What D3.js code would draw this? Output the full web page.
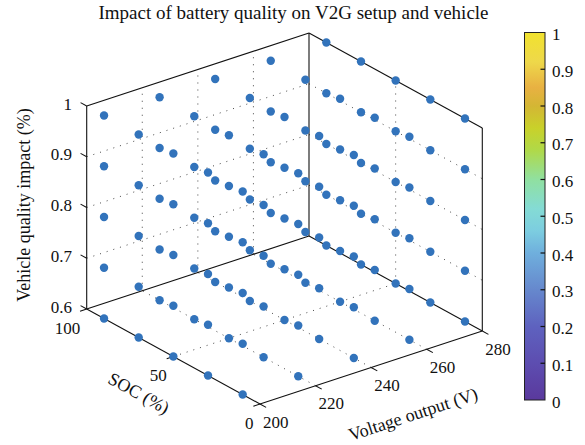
<!DOCTYPE html>
<html>
<head>
<meta charset="utf-8">
<script src="https://cdn.jsdelivr.net/npm/d3@7"></script>
<style>
  body { margin: 0; background: #fff; }
  svg { display: block; }
  text { font-family: "Liberation Serif", "DejaVu Serif", serif; fill: #111; }
</style>
</head>
<body>
<div id="chart"></div>
<script>
// values
var voltage = [200, 220, 240, 260, 280];
var soc = [10, 30, 50, 70, 90];
var quality = [0.6, 0.7, 0.8, 0.9, 1.0];

var voltageTicks = [200, 220, 240, 260, 280];
var socTicks = [0, 50, 100];
var qualityTicks = [0.6, 0.7, 0.8, 0.9, 1];
var colorTicks = [0, 0.1, 0.2, 0.3, 0.4, 0.5, 0.6, 0.7, 0.8, 0.9, 1];

var W = 585, H = 445;

// parula-like colormap used by the colorbar
var cmap = [
  [0.00, "#5a399d"], [0.10, "#5d4db0"], [0.20, "#5e62bf"], [0.30, "#6688cd"],
  [0.40, "#6fafdd"], [0.46, "#7ccde0"], [0.52, "#84dbd5"], [0.60, "#90e0a0"],
  [0.68, "#b0d948"], [0.74, "#c9d12a"], [0.80, "#d4b634"], [0.85, "#e8b142"],
  [0.92, "#eed84a"], [1.00, "#f1e22e"]
];

// each axis maps to a 0..1 fraction of the box
var fx = d3.scaleLinear().domain([200, 280]).range([0, 1]);
var fy = d3.scaleLinear().domain([100, 0]).range([0, 1]);
var fz = d3.scaleLinear().domain([0.6, 1]).range([0, 1]);

// screen vectors of the projected box
var origin = [86.7, 309];        // V=200, SOC=100, q=0.6
var ex = [222.3, -73];
var ey = [173.3, 95];
var ez = [0, -203];

function proj(v, s, q) {
  var a = fx(v), b = fy(s), c = fz(q);
  return [origin[0] + a*ex[0] + b*ey[0] + c*ez[0],
          origin[1] + a*ex[1] + b*ey[1] + c*ez[1]];
}
function unit(vec) {
  var l = Math.sqrt(vec[0]*vec[0] + vec[1]*vec[1]);
  return [vec[0]/l, vec[1]/l];
}

var svg = d3.select("#chart").append("svg")
  .attr("width", W).attr("height", H);

var line = d3.line();

// grid
var grid = svg.append("g")
  .attr("fill", "none")
  .attr("stroke", "#333")
  .attr("stroke-width", 0.9)
  .attr("stroke-dasharray", "1,6");
var vIn = voltageTicks.slice(1, -1), sIn = socTicks.slice(1, -1), qIn = qualityTicks.slice(1, -1);
vIn.forEach(function(v) {
  grid.append("path").attr("d", line([proj(v, 0, 0.6), proj(v, 100, 0.6)]));
  grid.append("path").attr("d", line([proj(v, 100, 0.6), proj(v, 100, 1)]));
});
sIn.forEach(function(s) {
  grid.append("path").attr("d", line([proj(200, s, 0.6), proj(280, s, 0.6)]));
  grid.append("path").attr("d", line([proj(280, s, 0.6), proj(280, s, 1)]));
});
qIn.forEach(function(q) {
  grid.append("path").attr("d", line([proj(200, 100, q), proj(280, 100, q)]));
  grid.append("path").attr("d", line([proj(280, 100, q), proj(280, 0, q)]));
});

// box edges of the three back planes
var box = svg.append("g").attr("fill", "none").attr("stroke", "#111").attr("stroke-width", 1.1);
var edges = [
  [[200,100,0.6],[200,0,0.6]], [[200,0,0.6],[280,0,0.6]], [[280,0,0.6],[280,100,0.6]],
  [[280,100,0.6],[200,100,0.6]], [[200,100,0.6],[200,100,1]], [[280,100,0.6],[280,100,1]],
  [[280,0,0.6],[280,0,1]], [[200,100,1],[280,100,1]], [[280,100,1],[280,0,1]]
];
edges.forEach(function(e) {
  box.append("path").attr("d", line([proj.apply(null, e[0]), proj.apply(null, e[1])]));
});

// ticks
var tickLen = 7;
var dV = unit([-ex[0], -ex[1]]);   // towards lower voltage
var dS = unit([-ey[0], -ey[1]]);   // towards higher SOC
var ticks = svg.append("g").attr("stroke", "#111").attr("stroke-width", 1.1);
qualityTicks.forEach(function(q) {
  var p = proj(200, 100, q);
  ticks.append("line").attr("x1", p[0]).attr("y1", p[1])
    .attr("x2", p[0] + dS[0]*tickLen).attr("y2", p[1] + dS[1]*tickLen);
});
socTicks.forEach(function(s) {
  var p = proj(200, s, 0.6);
  ticks.append("line").attr("x1", p[0]).attr("y1", p[1])
    .attr("x2", p[0] + dV[0]*tickLen).attr("y2", p[1] + dV[1]*tickLen);
});
voltageTicks.forEach(function(v) {
  var p = proj(v, 0, 0.6);
  ticks.append("line").attr("x1", p[0]).attr("y1", p[1])
    .attr("x2", p[0] - dS[0]*tickLen).attr("y2", p[1] - dS[1]*tickLen);
});

// points
var pts = d3.cross(d3.cross(voltage, soc), quality).map(function(d) {
  return { v: d[0][0], s: d[0][1], q: d[1] };
});
svg.append("g").selectAll("circle").data(pts).join("circle")
  .attr("cx", function(d) { return proj(d.v, d.s, d.q)[0]; })
  .attr("cy", function(d) { return proj(d.v, d.s, d.q)[1]; })
  .attr("r", 4.2)
  .attr("fill", "#3273bb");

// tick labels
var fs = 17;
var lab = svg.append("g").style("font-size", fs + "px");
qualityTicks.forEach(function(q) {
  var p = proj(200, 100, q);
  lab.append("text").attr("x", 72).attr("y", p[1] + 3.5)
    .attr("text-anchor", "end").text(d3.format("")(q));
});
socTicks.forEach(function(s) {
  var p = proj(200, s, 0.6);
  lab.append("text").attr("x", p[0] - 6.5).attr("y", p[1] + 24.5)
    .attr("text-anchor", "end").text(s);
});
voltageTicks.forEach(function(v) {
  var p = proj(v, 0, 0.6);
  lab.append("text").attr("x", p[0] + 3).attr("y", p[1] + 23.5)
    .attr("text-anchor", "start").text(v);
});

// axis titles
var angS = Math.atan2(ey[1], ey[0]) * 180 / Math.PI;
var angV = Math.atan2(ex[1], ex[0]) * 180 / Math.PI;
svg.append("text").attr("transform", "translate(30,205) rotate(-90)")
  .attr("text-anchor", "middle").style("font-size", "18px")
  .text("Vehicle quality impact (%)");
svg.append("text").attr("transform", "translate(139,393) rotate(" + angS + ")")
  .attr("text-anchor", "middle").attr("dy", "0.35em").style("font-size", "18px")
  .text("SOC (%)");
svg.append("text").attr("transform", "translate(413,414) rotate(" + angV + ")")
  .attr("text-anchor", "middle").attr("dy", "0.35em").style("font-size", "18px")
  .text("Voltage output (V)");

// title
svg.append("text").attr("x", 293.5).attr("y", 18.7)
  .attr("text-anchor", "middle").style("font-size", "19px")
  .text("Impact of battery quality on V2G setup and vehicle");

// colorbar
var cb = { x: 524.5, y: 32.5, w: 20.5, h: 367.5 };
var cy = d3.scaleLinear().domain([0, 1]).range([cb.y + cb.h, cb.y]);
var grad = svg.append("defs").append("linearGradient")
  .attr("id", "cbgrad").attr("x1", 0).attr("y1", 1).attr("x2", 0).attr("y2", 0);
cmap.forEach(function(c) {
  grad.append("stop").attr("offset", c[0]).attr("stop-color", c[1]);
});
svg.append("rect").attr("x", cb.x).attr("y", cb.y).attr("width", cb.w).attr("height", cb.h)
  .attr("fill", "url(#cbgrad)").attr("stroke", "#222").attr("stroke-width", 1);
var cbg = svg.append("g");
colorTicks.forEach(function(t) {
  if (t > 0 && t < 1) {
    cbg.append("line").attr("x1", cb.x + cb.w - 4.5).attr("x2", cb.x + cb.w)
      .attr("y1", cy(t)).attr("y2", cy(t)).attr("stroke", "#111").attr("stroke-width", 1.2);
  }
  cbg.append("text").attr("x", 552).attr("y", cy(t) + 7.5)
    .style("font-size", fs + "px").text(d3.format("")(t));
});
</script>
</body>
</html>
